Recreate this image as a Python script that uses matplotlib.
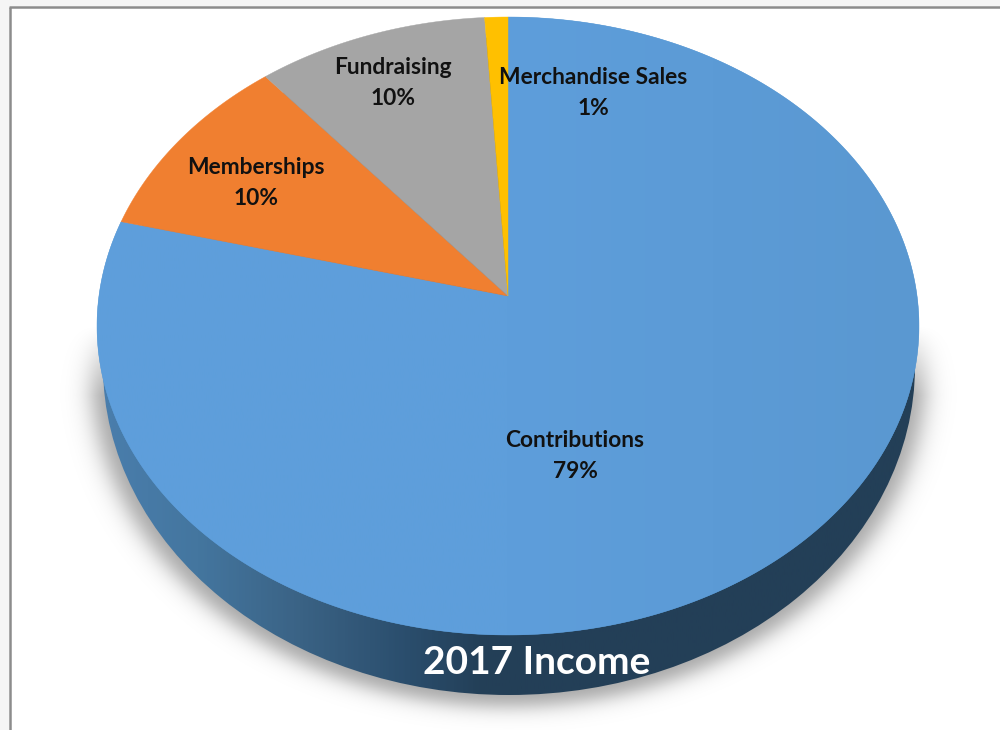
import numpy as np
import matplotlib
matplotlib.use("Agg")
import matplotlib.pyplot as plt
from matplotlib.colors import LinearSegmentedColormap
from matplotlib.patches import Ellipse, Rectangle, Polygon

categories = ["Contributions", "Memberships", "Fundraising", "Merchandise Sales"]
values = [79, 10, 10, 1]
colors = ["#5B9BD5", "#F07F30", "#A5A5A5", "#FFC000"]
chart_title = "2017 Income"

# label centres, pixels
label_x = [575, 256, 393, 593]
label_y = [456, 183, 83, 93]

# top face ellipse and the perspective of the pie
cx, cy, rx, ry = 508, 326, 411, 309
tilt = 30 / 309
# lower rim
rim_cx, rim_cy, rim_rx, rim_ry = 509, 366, 406, 329


def project(theta):
    # clockwise from 12 o'clock, circle -> tilted ellipse, apex stays off centre
    X, Y = np.sin(theta), np.cos(theta)
    d = 1 + tilt * Y
    px = X * np.sqrt(1 - tilt ** 2) / d
    py = (Y + tilt) / d
    return cx + rx * px, cy - ry * py


fig = plt.figure(figsize=(10, 7.3), dpi=100)
ax = fig.add_axes([0, 0, 1, 1])
ax.set_facecolor("white")

# window frame
ax.add_patch(Rectangle((0, 0), 1000, 6, color="#f5f5f5", lw=0, zorder=1))
ax.add_patch(Rectangle((0, 0), 9, 730, color="#f5f5f5", lw=0, zorder=1))
ax.plot([10, 10], [7, 730], color="#8c8c8c", lw=1.8, zorder=1, solid_capstyle="butt")
ax.plot([9, 1000], [7, 7], color="#8c8c8c", lw=1.8, zorder=1, solid_capstyle="butt")

# soft shadow under the pie
xx, yy = np.meshgrid(np.arange(0, 1000), np.arange(0, 730))
r = np.sqrt(((xx - 508) / 417) ** 2 + ((yy - 372) / 334) ** 2)
fade = np.clip((yy - 325) / 70, 0, 1)
shadow = np.zeros(xx.shape + (4,))
shadow[..., 3] = 0.36 * fade / (1 + np.exp((r - 1) * 375 / 6.5))
ax.imshow(shadow, extent=(0, 1000, 730, 0), aspect="auto", zorder=2, interpolation="bilinear")

# pie side
side_cmap = LinearSegmentedColormap.from_list(
    "side", [(0, "#4A7EAD"), (0.12, "#44769F"), (0.25, "#3A6284"), (0.38, "#2A4D6C"),
             (0.47, "#233F57"), (1, "#233F57")])
side = ax.imshow(np.linspace(0, 1, 400)[None, :], extent=(97, 919, 730, 0), aspect="auto",
                 cmap=side_cmap, zorder=3)
rim = Ellipse((rim_cx, rim_cy), 2 * rim_rx, 2 * rim_ry, transform=ax.transData)
side.set_clip_path(rim)

# top face
total = sum(values)
start = 0
face_cmap = LinearSegmentedColormap.from_list(
    "face", ["#5E9FDB", "#5E9EDB", "#5A98D1"])
for cat, val, col, in zip(categories, values, colors):
    end = start + val
    theta = 2 * np.pi * np.linspace(start, end, max(int(val) * 8, 8)) / total
    px, py = project(theta)
    pts = np.column_stack([np.r_[cx, px], np.r_[cy - ry * tilt, py]])
    ax.add_patch(Polygon(pts, closed=True, facecolor=col, edgecolor=col, lw=0.3, zorder=4))
    if cat == "Contributions":
        wedge = Polygon(pts, closed=True, transform=ax.transData)
        grad = ax.imshow(np.linspace(0, 1, 400)[None, :], extent=(97, 919, 730, 0), aspect="auto",
                         cmap=face_cmap, zorder=4)
        grad.set_clip_path(wedge)
    start = end

# labels
font = ["Lato", "DejaVu Sans"]
for cat, val, x, y in zip(categories, values, label_x, label_y):
    ax.text(x, y, f"{cat}\n{val}%", ha="center", va="center", fontsize=16.4, fontweight="bold",
            color="#111111", family=font, linespacing=1.56, zorder=6)

ax.text(537, 663, chart_title, ha="center", va="center", fontsize=28, fontweight="bold",
        color="white", family=font, zorder=6)

ax.set_xlim(0, 1000)
ax.set_ylim(730, 0)
ax.axis("off")
fig.patch.set_facecolor("white")
fig.savefig("out.png", dpi=100)
